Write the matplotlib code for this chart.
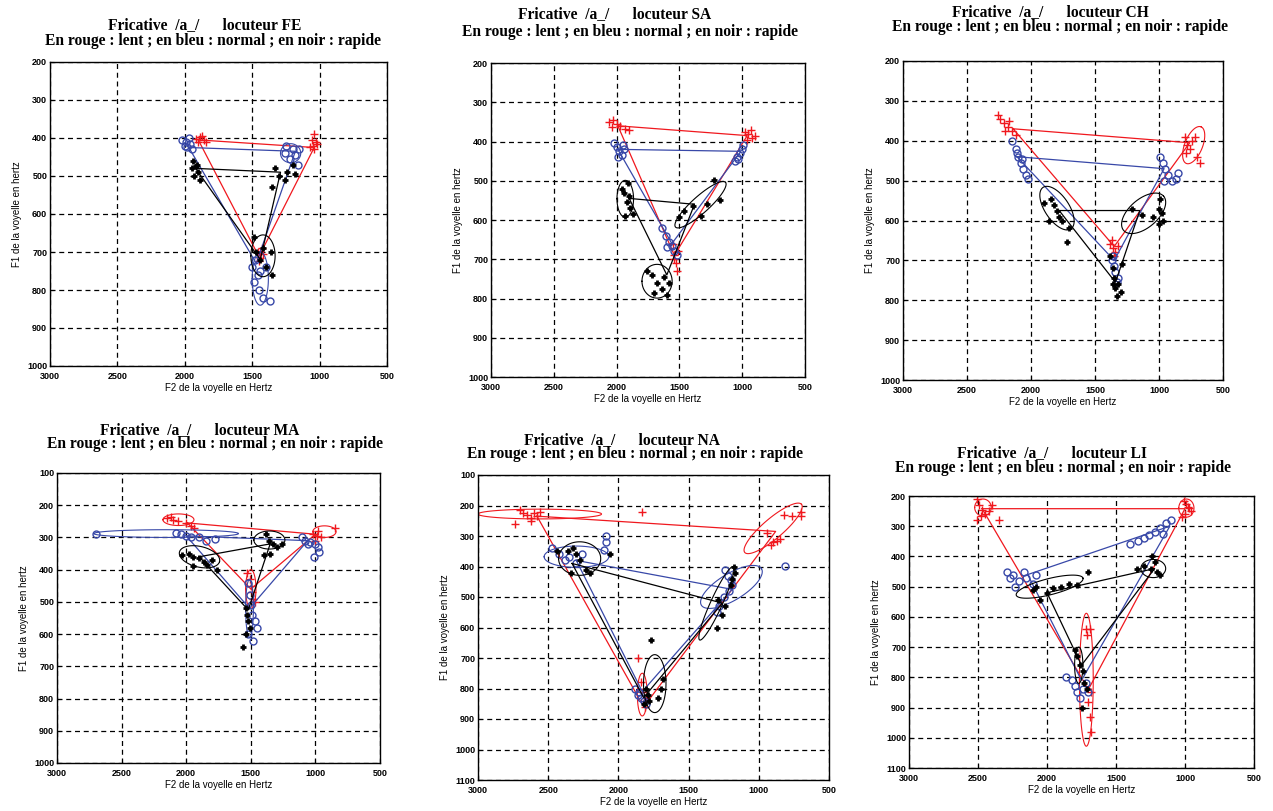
import numpy as np
import matplotlib
matplotlib.use("Agg")
import matplotlib.pyplot as plt

# ---- data : (F2, F1) in Hz, triangle order i, u, a ----
# ellipses : (cF2, cF1, aF2, aF1, bF2, bF1) centre + two half-axes
speakers = ["FE", "SA", "CH", "MA", "NA", "LI"]
f1_limits = [(200, 1000), (200, 1000), (200, 1000), (100, 1000), (100, 1100), (200, 1100)]

# FE
FE_lent_tri = [(1900, 405), (1040, 425), (1450, 712)]
FE_lent_pts = [(1920, 402), (1890, 398), (1860, 405), (1840, 410), (1900, 410), (1870, 395),
               (1040, 390), (1030, 410), (1050, 420), (1070, 425), (1020, 415), (1060, 405), (1045, 430),
               (1460, 700), (1440, 715), (1420, 705), (1450, 725), (1430, 690)]
FE_lent_ell = []
FE_norm_tri = [(1970, 425), (1180, 435), (1470, 730)]
FE_norm_pts = [(2020, 405), (1990, 410), (1960, 415), (1980, 425), (1950, 430), (2000, 420), (1970, 400),
               (1250, 420), (1200, 430), (1180, 445), (1220, 455), (1160, 470), (1260, 440), (1150, 430),
               (1480, 720), (1500, 740), (1460, 760), (1490, 780), (1450, 800), (1420, 820), (1370, 830),
               (1400, 740), (1440, 750)]
FE_norm_ell = [(1215, 440, 75, 0, 0, 25), (1440, 770, 60, 0, 0, 70)]
FE_rap_tri = [(1920, 480), (1290, 490), (1440, 720)]
FE_rap_pts = [(1940, 460), (1920, 475), (1900, 490), (1930, 500), (1910, 470), (1890, 510), (1950, 480),
              (1330, 480), (1300, 500), (1240, 490), (1200, 470), (1350, 530), (1260, 510), (1180, 495),
              (1490, 660), (1470, 700), (1440, 720), (1400, 740), (1350, 760), (1360, 700), (1420, 690)]
FE_rap_ell = [(1420, 710, 90, 0, 0, 55)]

# SA
SA_lent_tri = [(1990, 360), (960, 385), (1540, 690)]
SA_lent_pts = [(2060, 350), (2030, 345), (2000, 355), (1970, 360), (1930, 368), (2040, 362), (1900, 370),
               (980, 375), (950, 380), (920, 390), (900, 385), (960, 395), (930, 370),
               (1550, 660), (1540, 690), (1530, 710), (1520, 730), (1545, 700), (1510, 680)]
SA_lent_ell = []
SA_norm_tri = [(1990, 420), (1010, 425), (1560, 660)]
SA_norm_pts = [(2020, 405), (2000, 415), (1980, 425), (1960, 435), (1940, 420), (1990, 440), (1950, 410),
               (1060, 450), (1040, 440), (1020, 430), (1000, 420), (990, 410), (1030, 445),
               (1640, 620), (1610, 640), (1580, 655), (1560, 665), (1540, 680), (1520, 690), (1600, 670)]
SA_norm_ell = []
SA_rap_tri = [(1900, 545), (1380, 560), (1600, 740)]
SA_rap_pts = [(1960, 520), (1940, 530), (1900, 540), (1920, 555), (1890, 570), (1930, 590), (1870, 585), (1910, 505),
              (1226, 499), (1173, 550), (1279, 559), (1465, 576), (1505, 593), (1390, 565), (1330, 590),
              (1760, 730), (1720, 740), (1680, 760), (1640, 775), (1600, 790), (1580, 760), (1700, 785), (1620, 745)]
SA_rap_ell = [(1931, 546, 66, 0, 0, 47), (1678, 756, 120, 0, 0, 43), (1332, 561, -199, -57, -44, 16)]

# CH
CH_lent_tri = [(2140, 370), (760, 405), (1350, 665)]
CH_lent_pts = [(2260, 335), (2240, 345), (2210, 355), (2180, 365), (2150, 375), (2120, 385), (2200, 375), (2170, 350),
               (800, 390), (780, 410), (760, 420), (740, 400), (720, 390), (700, 440), (680, 455), (790, 430),
               (1380, 660), (1360, 670), (1340, 680), (1320, 665), (1370, 650), (1350, 690)]
CH_lent_ell = [(729, 411, -57, -46, -65, 8)]
CH_norm_tri = [(2110, 440), (960, 470), (1350, 700)]
CH_norm_pts = [(2150, 400), (2120, 420), (2100, 440), (2080, 455), (2060, 470), (2040, 485), (2020, 495), (2110, 430),
               (2070, 445), (990, 440), (970, 455), (950, 470), (930, 485), (900, 500), (870, 495), (850, 480),
               (960, 500), (1370, 700), (1350, 715), (1340, 730), (1320, 745), (1360, 690), (1330, 755)]
CH_norm_ell = []
CH_rap_tri = [(1780, 575), (1150, 575), (1340, 755)]
CH_rap_pts = [(1900, 555), (1840, 545), (1820, 560), (1800, 575), (1780, 590), (1760, 600), (1700, 620), (1860, 600),
              (1720, 655), (1210, 570), (1130, 585), (1050, 590), (1000, 570), (980, 580), (970, 600), (1000, 610),
              (990, 545), (1380, 690), (1360, 720), (1350, 745), (1340, 770), (1330, 790), (1300, 780), (1320, 760),
              (1360, 760), (1290, 710)]
CH_rap_ell = [(1797, 569, -109, 52, -78, -17), (1120, 582, -156, -43, -73, 27)]

# MA
MA_lent_tri = [(1990, 255), (1000, 290), (1500, 460)]
MA_lent_pts = [(2150, 240), (2100, 245), (2060, 250), (2000, 255), (1960, 265), (1940, 270), (2120, 235),
               (1020, 290), (990, 295), (980, 280), (960, 300), (1000, 310), (850, 270),
               (1530, 410), (1510, 430), (1500, 450), (1490, 470), (1480, 490), (1470, 500)]
MA_lent_ell = [(2060, 245, 120, 0, 0, 18), (930, 282, 90, 0, 0, 18), (1500, 460, 40, 0, 0, 60)]
MA_norm_tri = [(2000, 295), (1060, 310), (1510, 520)]
MA_norm_pts = [(2700, 290), (2080, 285), (2040, 290), (2000, 295), (1960, 300), (1900, 300), (1850, 310), (1780, 305),
               (1100, 300), (1080, 310), (1060, 320), (1040, 315), (1000, 320), (980, 330), (970, 345), (1010, 360),
               (1520, 440), (1510, 480), (1500, 510), (1490, 540), (1470, 560), (1450, 580), (1520, 600), (1480, 620)]
MA_norm_ell = [(2155, 288, 560, 0, 0, 12), (1510, 520, 30, 0, 0, 90)]
MA_rap_tri = [(1900, 360), (1350, 320), (1520, 525)]
MA_rap_pts = [(2030, 355), (1980, 350), (1950, 360), (1900, 365), (1860, 375), (1840, 385), (1800, 370), (1950, 390),
              (1760, 400), (1380, 290), (1360, 310), (1330, 320), (1300, 330), (1260, 320), (1400, 355), (1350, 350),
              (1540, 520), (1530, 540), (1520, 560), (1510, 580), (1540, 600), (1560, 640)]
MA_rap_ell = [(1897, 360, -155, 15, 20, 31), (1356, 308, 120, 0, 0, 28)]

# NA
NA_lent_tri = [(2580, 235), (880, 285), (1820, 860)]
NA_lent_pts = [(2740, 260), (2700, 215), (2680, 225), (2650, 230), (2620, 240), (2600, 225), (2580, 235), (2560, 220),
               (2620, 250), (1830, 220), (700, 220), (700, 235), (760, 235), (820, 230), (940, 290), (900, 320),
               (910, 330), (870, 315), (850, 310), (1860, 700), (1840, 780), (1830, 810), (1820, 840), (1810, 860),
               (1800, 830)]
NA_lent_ell = [(2560, 228, 440, 0, 0, 16), (898, 275, -202, -79, -46, 25), (1830, 820, 35, 0, 0, 70)]
NA_norm_tri = [(2300, 380), (1190, 475), (1830, 810)]
NA_norm_pts = [(2470, 340), (2420, 360), (2380, 380), (2350, 370), (2300, 390), (2260, 360), (2090, 300), (2085, 320),
               (2100, 345), (1240, 410), (1220, 430), (1200, 445), (1190, 460), (1210, 480), (1250, 500), (1280, 530),
               (1300, 550), (815, 398), (1880, 800), (1860, 820), (1840, 830), (1820, 840), (1800, 850), (1850, 810)]
NA_norm_ell = [(2299, 368, 230, 0, 0, 35), (1195, 467, -214, -60, -50, 37)]
NA_rap_tri = [(2330, 390), (1260, 520), (1820, 830)]
NA_rap_pts = [(2440, 350), (2360, 350), (2320, 340), (2300, 360), (2270, 380), (2230, 410), (2200, 420), (2340, 420),
              (2060, 360), (1180, 400), (1170, 420), (1190, 440), (1200, 460), (1240, 530), (1260, 560), (1300, 600),
              (1290, 510), (1770, 640), (1800, 800), (1790, 820), (1780, 840), (1700, 800), (1680, 770), (1720, 830),
              (1820, 850)]
NA_rap_ell = [(2276, 374, 150, 0, 0, 55), (1302, 521, -119, -120, -38, 8), (1741, 784, 80, 0, 0, 95)]

# LI
LI_lent_tri = [(2470, 242), (1000, 242), (1700, 840)]
LI_lent_pts = [(2510, 210), (2490, 230), (2470, 245), (2450, 260), (2420, 250), (2400, 230), (2350, 280), (2510, 280),
               (2480, 265), (1010, 215), (990, 225), (970, 240), (960, 250), (1000, 260), (1020, 270), (980, 235),
               (1720, 640), (1690, 640), (1710, 660), (1680, 850), (1700, 880), (1690, 930), (1680, 980)]
LI_lent_ell = [(2464, 238, 60, 0, 0, 28), (990, 240, 55, 0, 0, 30), (1715, 808, 50, 0, 0, 220)]
LI_norm_tri = [(2140, 460), (1110, 300), (1750, 810)]
LI_norm_pts = [(2290, 450), (2270, 470), (2250, 460), (2200, 480), (2170, 450), (2150, 470), (2100, 490), (2230, 500),
               (2080, 460), (1400, 360), (1340, 350), (1300, 340), (1260, 330), (1220, 320), (1180, 305), (1140, 290),
               (1100, 280), (1160, 325), (1860, 800), (1820, 810), (1800, 830), (1780, 850), (1760, 870), (1740, 840),
               (1720, 820), (1700, 850)]
LI_norm_ell = []
LI_rap_tri = [(2000, 520), (1220, 440), (1750, 760)]
LI_rap_pts = [(2100, 510), (2050, 545), (2000, 520), (1960, 505), (1900, 500), (1840, 490), (1780, 495), (1700, 450),
              (2080, 500), (1350, 440), (1300, 430), (1250, 440), (1200, 450), (1180, 460), (1240, 400), (1220, 420),
              (1800, 710), (1780, 730), (1760, 760), (1740, 780), (1730, 820), (1710, 840), (1750, 900)]
LI_rap_ell = [(1981, 500, -242, -28, -14, 26), (1230, 440, 90, 0, 0, 30), (1770, 760, 30, 0, 0, 60)]

panel_data = [
    [(FE_lent_tri, FE_lent_pts, FE_lent_ell), (FE_norm_tri, FE_norm_pts, FE_norm_ell), (FE_rap_tri, FE_rap_pts, FE_rap_ell)],
    [(SA_lent_tri, SA_lent_pts, SA_lent_ell), (SA_norm_tri, SA_norm_pts, SA_norm_ell), (SA_rap_tri, SA_rap_pts, SA_rap_ell)],
    [(CH_lent_tri, CH_lent_pts, CH_lent_ell), (CH_norm_tri, CH_norm_pts, CH_norm_ell), (CH_rap_tri, CH_rap_pts, CH_rap_ell)],
    [(MA_lent_tri, MA_lent_pts, MA_lent_ell), (MA_norm_tri, MA_norm_pts, MA_norm_ell), (MA_rap_tri, MA_rap_pts, MA_rap_ell)],
    [(NA_lent_tri, NA_lent_pts, NA_lent_ell), (NA_norm_tri, NA_norm_pts, NA_norm_ell), (NA_rap_tri, NA_rap_pts, NA_rap_ell)],
    [(LI_lent_tri, LI_lent_pts, LI_lent_ell), (LI_norm_tri, LI_norm_pts, LI_norm_ell), (LI_rap_tri, LI_rap_pts, LI_rap_ell)],
]

# ---- layout (pixels) ----
W, H = 1273, 811
boxes = [(50, 62, 387, 366), (491, 63, 805, 377), (903, 61, 1223, 380),
         (57, 473, 380, 763), (478, 475, 829, 780), (909, 496, 1254, 768)]
title_pos = [(205, 25, 213, 41), (615, 14, 630, 32), (1050, 12, 1060, 27),
             (200, 430, 215, 444), (622, 440, 635, 454), (1052, 453, 1063, 468)]

colors = ["#f0181e", "#3848a8", "black"]
styles = [dict(marker="+", ms=6, mew=1.0), dict(marker="o", ms=5, mew=1.0, mfc="none"),
          dict(marker="+", ms=5, mew=2.0)]


def ellipse_xy(e):
    t = np.linspace(0, 2 * np.pi, 80)
    cx, cy, ax_, ay, bx, by = e
    return cx + ax_ * np.cos(t) + bx * np.sin(t), cy + ay * np.cos(t) + by * np.sin(t)


fig = plt.figure(figsize=(W / 100, H / 100), dpi=100)

for k in range(6):
    x0, y0, x1, y1 = boxes[k]
    ax = fig.add_axes([x0 / W, 1 - y1 / H, (x1 - x0) / W, (y1 - y0) / H])
    lo, hi = f1_limits[k]
    for c in range(3):
        tri, pts, ells = panel_data[k][c]
        col = colors[c]
        tx = [p[0] for p in tri] + [tri[0][0]]
        ty = [p[1] for p in tri] + [tri[0][1]]
        ax.plot(tx, ty, color=col, lw=0.9)
        ax.plot([p[0] for p in pts], [p[1] for p in pts], ls="none", color=col, **styles[c])
        for e in ells:
            ex, ey = ellipse_xy(e)
            ax.plot(ex, ey, color=col, lw=0.8)
    ax.set_xlim(3000, 500)
    ax.set_ylim(hi, lo)
    ax.set_xticks([3000, 2500, 2000, 1500, 1000, 500])
    ax.set_yticks(np.arange(lo, hi + 1, 100))
    ax.grid(True, color="black", linestyle=(0, (4, 3)), linewidth=0.9)
    ax.tick_params(direction="in", length=3, labelsize=6.5, pad=2)
    ax.tick_params(axis="x", pad=4)
    for lab in ax.get_xticklabels() + ax.get_yticklabels():
        lab.set_fontweight("bold")
        lab.set_family("Liberation Sans")
    for s in ax.spines.values():
        s.set_linewidth(1.0)
    ax.set_xlabel("F2 de la voyelle en Hertz", fontsize=7, family="Liberation Sans", labelpad=2)
    ax.set_ylabel("F1 de la voyelle en hertz", fontsize=7, family="Liberation Sans", labelpad=4)

    tx1, ty1, tx2, ty2 = title_pos[k]
    fig.text(tx1 / W, 1 - ty1 / H, "Fricative  /a_/      locuteur " + speakers[k],
             ha="center", va="center", fontsize=11.2, fontweight="bold", family="Liberation Serif")
    fig.text(tx2 / W, 1 - ty2 / H, "En rouge : lent ; en bleu : normal ; en noir : rapide",
             ha="center", va="center", fontsize=11.2, fontweight="bold", family="Liberation Serif")

fig.savefig("out.png", dpi=100)
